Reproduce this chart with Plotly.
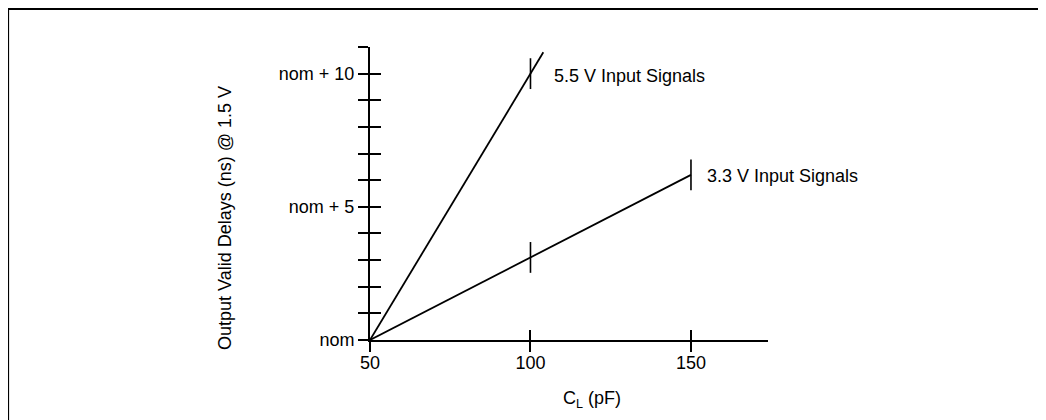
import plotly.graph_objects as go

# Data
cap_pf_55 = [50, 100, 104]
delay_55 = [0, 10, 10.8]
cap_pf_33 = [50, 100, 150]
delay_33 = [0, 3.1, 6.2]
mark_x_55 = [100]
mark_y_55 = [10]
mark_x_33 = [100, 150]
mark_y_33 = [3.1, 6.2]
series_labels = ["5.5 V Input Signals", "3.3 V Input Signals"]
x_tickvals = [50, 100, 150]
x_ticktext = ["50", "100", "150"]
y_tickvals = [0, 5, 10]
y_ticktext = ["nom", "nom + 5", "nom + 10"]
y_minor_step = 1

OFF = 8  # page body margin
W, H = 1046, 420
AX_L, AX_R, AX_T, AX_B = 370 - OFF, 768 - OFF, 47 - OFF, 340 - OFF
L, R, T, B = AX_L, W - AX_R, AX_T, H - AX_B
FONT = "Liberation Sans, Arial, sans-serif"
FS = 18

fig = go.Figure()
line_style = dict(color="black", width=1.8)
fig.add_trace(go.Scatter(x=cap_pf_55, y=delay_55, mode="lines", line=line_style,
                         showlegend=False, hoverinfo="skip"))
fig.add_trace(go.Scatter(x=cap_pf_33, y=delay_33, mode="lines", line=line_style,
                         showlegend=False, hoverinfo="skip"))
mk = dict(symbol="line-ns-open", size=22, color="black", line=dict(color="black", width=1.6))
fig.add_trace(go.Scatter(x=mark_x_55, y=mark_y_55, mode="markers", marker=mk,
                         showlegend=False, hoverinfo="skip"))
fig.add_trace(go.Scatter(x=mark_x_33, y=mark_y_33, mode="markers", marker=mk,
                         showlegend=False, hoverinfo="skip"))
# invisible trace for overlay axes
fig.add_trace(go.Scatter(x=[50], y=[0], xaxis="x2", yaxis="y2", mode="markers",
                         marker=dict(opacity=0), showlegend=False, hoverinfo="skip"))

xr = [50, 174]
yr = [0, 11]
common = dict(showgrid=False, zeroline=False, tickcolor="black", tickwidth=1.8)
minor_out = dict(dtick=y_minor_step, tick0=0, ticks="outside", ticklen=10,
                 tickwidth=1.8, tickcolor="black", showgrid=False)
minor_in = dict(dtick=y_minor_step, tick0=0, ticks="inside", ticklen=11,
                tickwidth=1.8, tickcolor="black", showgrid=False)
fig.update_layout(
    width=W, height=H,
    margin=dict(l=L, r=R, t=T, b=B),
    paper_bgcolor="white", plot_bgcolor="white",
    font=dict(family=FONT, size=FS, color="black"),
    xaxis=dict(range=xr, tickvals=x_tickvals, ticktext=x_ticktext, ticks="outside",
               ticklen=10, showline=True, linecolor="black", linewidth=2,
               ticklabelstandoff=-5, tickfont=dict(size=FS), **common),
    yaxis=dict(range=yr, tickvals=y_tickvals, ticktext=y_ticktext, ticks="outside",
               ticklen=10, showline=True, linecolor="black", linewidth=2,
               tickfont=dict(size=FS), minor=minor_out, **common),
    xaxis2=dict(range=xr, overlaying="x", anchor="y", side="bottom", tickvals=x_tickvals,
                ticks="inside", ticklen=10, showticklabels=False, showline=False, **common),
    yaxis2=dict(range=yr, overlaying="y", anchor="x", side="left", tickvals=y_tickvals,
                ticks="inside", ticklen=11, showticklabels=False, showline=False,
                minor=minor_in, **common),
)

fig.add_annotation(x=mark_x_55[0], y=mark_y_55[0], text=series_labels[0], showarrow=False,
                   xanchor="left", yanchor="middle", xshift=22, yshift=-2, font=dict(size=FS))
fig.add_annotation(x=mark_x_33[-1], y=mark_y_33[-1], text=series_labels[1], showarrow=False,
                   xanchor="left", yanchor="middle", xshift=14, yshift=-1, font=dict(size=FS))

def px(xp):
    return (xp - OFF - L) / (W - L - R)

def py(yp):
    return (H - B - (yp - OFF)) / (H - T - B)

fig.add_annotation(xref="paper", yref="paper", x=px(213), y=py(218),
                   text="Output Valid Delays (ns) @ 1.5 V", textangle=-90,
                   showarrow=False, font=dict(size=FS))
fig.add_annotation(xref="paper", yref="paper", x=px(592), y=py(413),
                   text="C<sub>L</sub> (pF)", showarrow=False, font=dict(size=FS))

fig.add_shape(type="rect", xref="paper", yref="paper",
              x0=px(8), x1=px(1060), y0=py(440), y1=py(9),
              line=dict(color="black", width=2.2), fillcolor="rgba(0,0,0,0)", layer="below")

fig.write_html("out.html")
